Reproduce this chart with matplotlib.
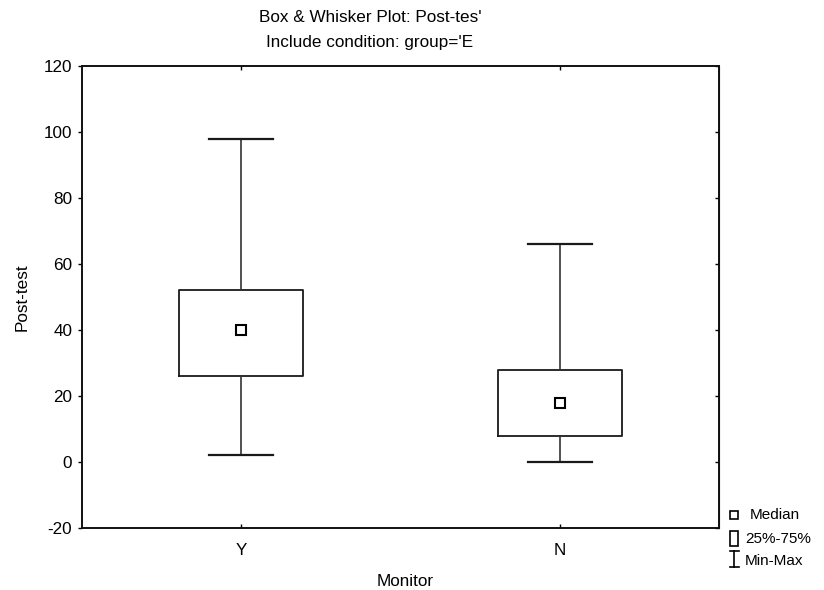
import matplotlib
matplotlib.use("Agg")
import matplotlib.pyplot as plt
from matplotlib.patches import Rectangle

plt.rcParams['font.family'] = ['Liberation Sans', 'DejaVu Sans']
plt.rcParams['axes.unicode_minus'] = False

# data
groups = ['Y', 'N']
q1 = [26, 8]
q3 = [52, 28]
medians = [40, 18]
mins = [2, 0]
maxs = [98, 66]

W, H = 824, 590
FS = 12.3
fig = plt.figure(figsize=(W / 100, H / 100), dpi=100)

# axes box in pixel coords: left 82, right 719, top 66, bottom 528
ax = fig.add_axes([82 / W, 1 - 528 / H, (719 - 82) / W, (528 - 66) / H])

stats = []
for i, g in enumerate(groups):
    stats.append(dict(label=g, med=medians[i], q1=q1[i], q3=q3[i],
                      whislo=mins[i], whishi=maxs[i], fliers=[]))

pos = list(range(len(groups)))
ax.bxp(stats, positions=pos, widths=0.39, capwidths=0.2, showfliers=False,
       boxprops=dict(color='#1a1a1a', linewidth=1.3),
       whiskerprops=dict(color='#333333', linewidth=1.2),
       capprops=dict(color='#1a1a1a', linewidth=1.6),
       medianprops=dict(linewidth=0))
ax.plot(pos, medians, 's', ms=7.5, mfc='white', mec='black', mew=1.5, zorder=5)

ax.set_xlim(-0.5, 1.5)
ax.set_ylim(-20, 120)
ax.set_yticks(range(-20, 121, 20))
ax.set_xticks(pos)
ax.set_xticklabels(groups)
for s in ax.spines.values():
    s.set_linewidth(1.4)
    s.set_color('#111111')
ax.tick_params(axis='y', which='both', direction='out', length=3, width=1,
               labelsize=FS, pad=4)
ax.tick_params(axis='x', direction='in', length=3, width=1, labelsize=FS,
               pad=11, top=True)
# inward ticks on the right frame
ax.secondary_yaxis('right').tick_params(direction='in', length=3, width=1,
                                        labelright=False)
ax.set_ylabel('Post-test', fontsize=FS, labelpad=10)

fig.text(370 / W, 1 - 17 / H, "Box & Whisker Plot: Post-tes'", ha='center',
         va='center', fontsize=FS)
fig.text(370 / W, 1 - 43 / H, "Include condition: group='E", ha='center',
         va='center', fontsize=FS)
fig.text(405 / W, 1 - 582 / H, 'Monitor', ha='center', va='center', fontsize=FS)

# legend drawn in a small pixel-coordinate axes
lg = fig.add_axes([720 / W, 1 - 580 / H, 104 / W, 80 / H])
lg.set_xlim(720, 824)
lg.set_ylim(580, 500)
lg.axis('off')
lg.plot([734], [515], 's', ms=5.5, mfc='white', mec='black', mew=1.2)
lg.add_patch(Rectangle((730, 531), 8, 15, fill=False, ec='black', lw=1.2))
lg.plot([734, 734], [551, 567], color='black', lw=1.2)
lg.plot([729.5, 738.5], [551, 551], color='black', lw=1.2)
lg.plot([729.5, 738.5], [567, 567], color='black', lw=1.2)
lg.text(750, 515, 'Median', va='center', fontsize=11)
lg.text(745, 539, '25%-75%', va='center', fontsize=11)
lg.text(745, 561, 'Min-Max', va='center', fontsize=11)

fig.savefig('out.png', dpi=100)
